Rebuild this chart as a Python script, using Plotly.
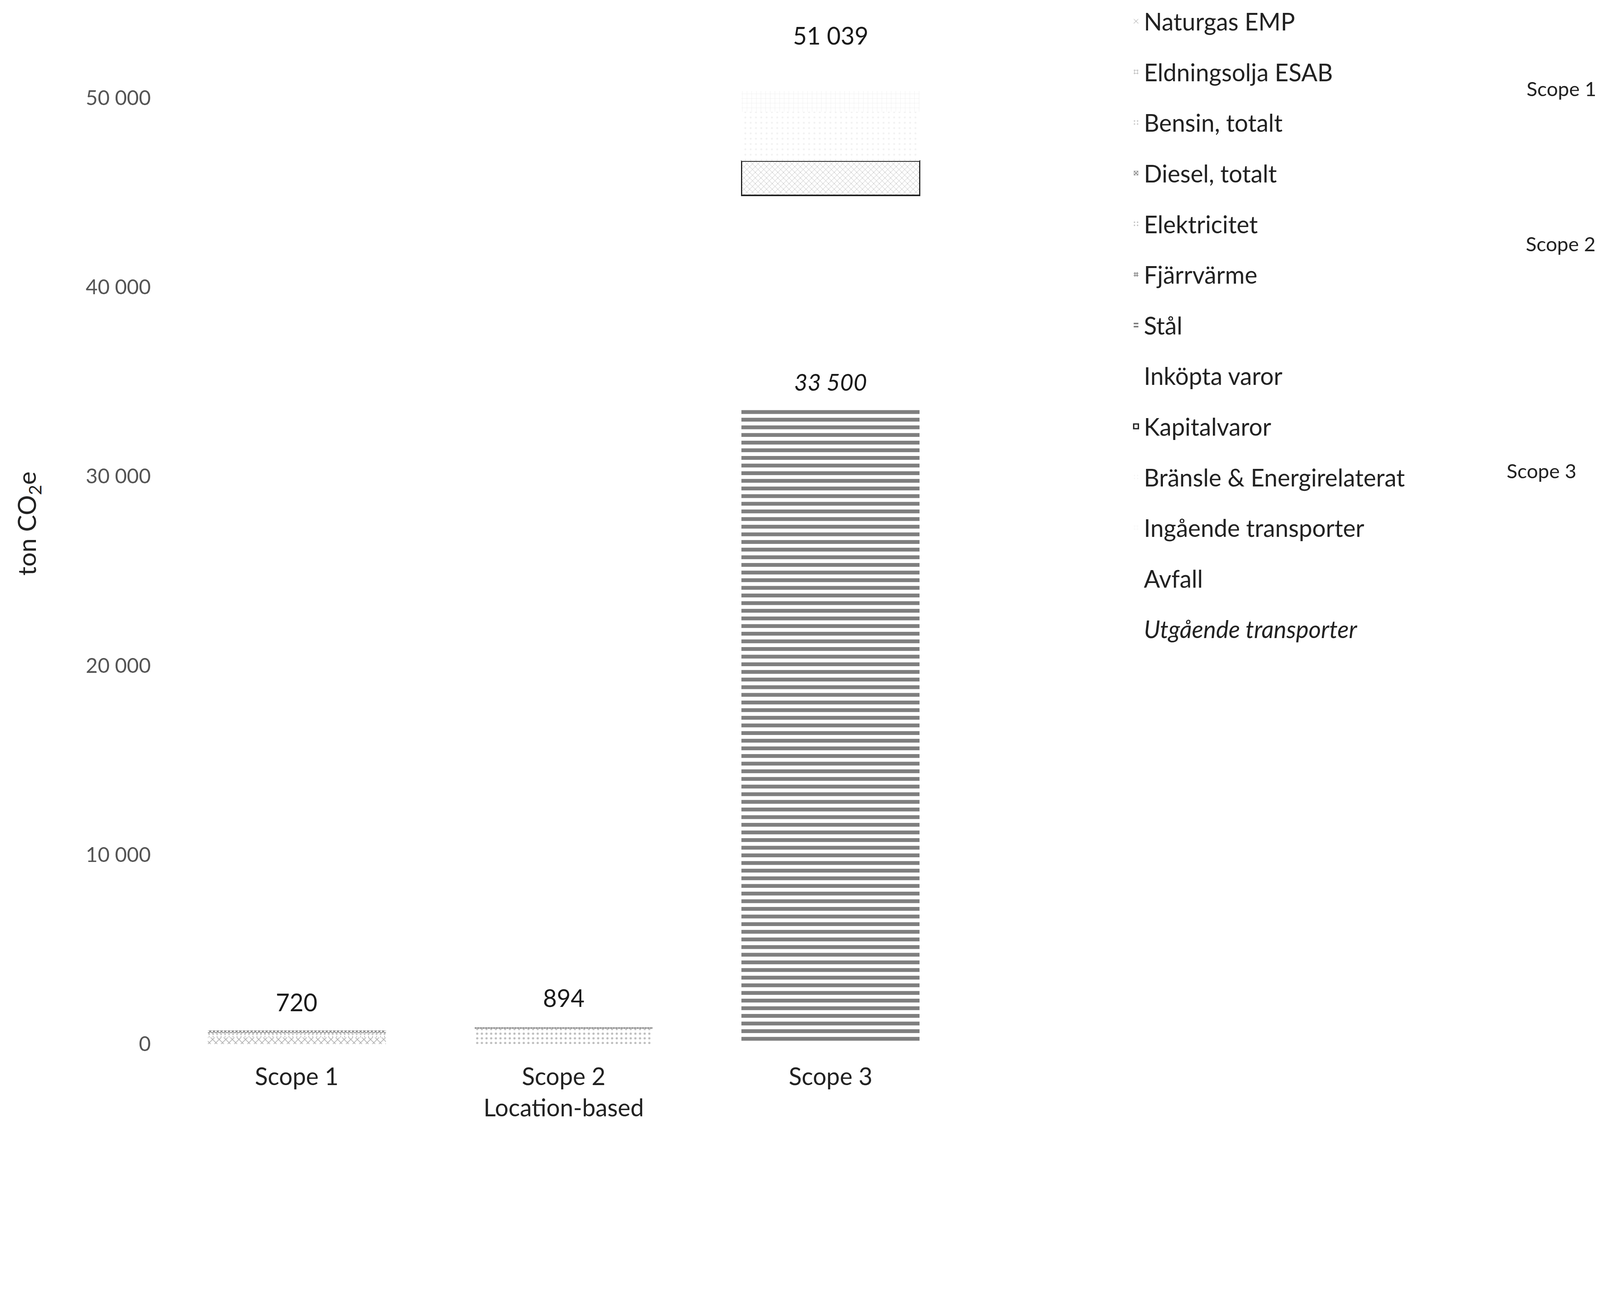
import plotly.graph_objects as go

# ---------------- data ----------------
categories = ["Scope 1", "Scope 2<br>Location-based", "Scope 3"]

series_names = [
    "Naturgas EMP",
    "Eldningsolja ESAB",
    "Bensin, totalt",
    "Diesel, totalt",
    "Elektricitet",
    "Fjärrvärme",
    "Stål",
    "Inköpta varor",
    "Kapitalvaror",
    "Bränsle & Energirelaterat",
    "Ingående transporter",
    "Avfall",
    "<i>Utgående transporter</i>",
]

naturgas_emp = [350, None, None]
eldningsolja_esab = [90, None, None]
bensin_totalt = [130, None, None]
diesel_totalt = [150, None, None]
elektricitet = [None, 804, None]
fjarrvarme = [None, 90, None]
stal = [None, None, 33500]
inkopta_varor = [None, None, 11340]
kapitalvaror = [None, None, 1820]
bransle_energi = [None, None, 2600]
ingaende_transporter = [None, None, 1100]
avfall = [None, None, 250]
utgaende_transporter = [None, None, 429]

series_values = [
    naturgas_emp, eldningsolja_esab, bensin_totalt, diesel_totalt,
    elektricitet, fjarrvarme, stal, inkopta_varor, kapitalvaror,
    bransle_energi, ingaende_transporter, avfall, utgaende_transporter,
]

y_ticks = [0, 10000, 20000, 30000, 40000, 50000]
scope_labels = ["Scope 1", "Scope 2", "Scope 3"]

# ---------------- sizing ----------------
# the page is shown in a viewport of 4096 css px mapped to 4816 device px
S = 4096 / 4816


def px(v):
    return v * S


def ipx(v):
    return int(round(v * S))


W, H = 4816, 3368
L, R, T, B = 482, 4816 - 2892, 0, 3368 - 3133

styles = [
    dict(shape="x", fg="#555555", size=14, sol=0.25, line=None),
    dict(shape="+", fg="#444444", size=12, sol=0.25, line=None),
    dict(shape=".", fg="#888888", size=12, sol=0.2, line=None),
    dict(shape="x", fg="#111111", size=8, sol=0.6, line=None),
    dict(shape=".", fg="#777777", size=14, sol=0.18, line=None),
    dict(shape="+", fg="#111111", size=8, sol=0.6, line=None),
    dict(shape="-", fg="#000000", size=23, sol=0.5, line=None),
    dict(shape="", fg="#ffffff", size=10, sol=0.2, line=None),
    dict(shape="x", fg="#555555", size=12, sol=0.15, line="#222222"),
    dict(shape=".", fg="#e4e4e4", size=16, sol=0.1, line=None),
    dict(shape="+", fg="#d0d0d0", size=14, sol=0.1, line=None),
    dict(shape="", fg="#ffffff", size=10, sol=0.2, line=None),
    dict(shape="", fg="#ffffff", size=10, sol=0.2, line=None),
]

FONT = "Lato"

fig = go.Figure()
for i, (name, vals, st) in enumerate(zip(series_names, series_values, styles)):
    fig.add_trace(go.Bar(
        x=categories,
        y=vals,
        name=name,
        legendgroup=f"g{i}",
        marker=dict(
            color="#ffffff",
            pattern=dict(shape=st["shape"], fgcolor=st["fg"], bgcolor="#ffffff",
                         size=px(st["size"]), solidity=st["sol"], fillmode="overlay"),
            line=dict(color=st["line"] or "rgba(0,0,0,0)", width=px(4) if st["line"] else 0),
        ),
        hoverinfo="skip",
    ))

# totals per category computed from the series
totals = []
for c in range(len(categories)):
    totals.append(sum(v[c] for v in series_values if v[c] is not None))


def fmt(v):
    return f"{v:,}".replace(",", " ")


label_shift = [85, 89, 128]
for c, tot in enumerate(totals):
    fig.add_annotation(x=categories[c], y=tot, text=fmt(tot), showarrow=False,
                       yanchor="middle", yshift=px(label_shift[c]),
                       font=dict(family=FONT, size=px(72), color="#1a1a1a"))

# italic label on the Stål segment
fig.add_annotation(x=categories[2], y=stal[2], text=f"<i>{fmt(stal[2])}</i>", showarrow=False,
                   yanchor="middle", yshift=px(85),
                   font=dict(family=FONT, size=px(70), color="#1a1a1a"))

# scope group labels beside the legend
scope_pos = [(1.746, 0.918), (1.745, 0.769), (1.721, 0.551)]
for lab, (xp, yp) in zip(scope_labels, scope_pos):
    fig.add_annotation(xref="paper", yref="paper", x=xp, y=yp, text=lab, showarrow=False,
                       xanchor="center", yanchor="middle",
                       font=dict(family=FONT, size=px(60), color="#222222"))

fig.update_layout(
    width=ipx(W),
    height=ipx(H),
    margin=dict(l=px(L), r=px(R), t=px(T), b=px(B), pad=0),
    barmode="stack",
    bargap=0.333,
    paper_bgcolor="white",
    plot_bgcolor="white",
    separators=", ",
    font=dict(family=FONT, size=px(72), color="#222222"),
    showlegend=True,
    legend=dict(
        x=1.205, y=1.0, xanchor="left", yanchor="top",
        traceorder="grouped",
        tracegroupgap=ipx(55),
        font=dict(family=FONT, size=px(72), color="#222222"),
        bgcolor="rgba(0,0,0,0)",
        itemwidth=30,
    ),
    xaxis=dict(
        showgrid=False, showline=False, zeroline=False, ticks="",
        tickfont=dict(family=FONT, size=px(72), color="#222222"),
        ticklabelstandoff=ipx(50),
    ),
    yaxis=dict(
        range=[0, 55000],
        tickvals=y_ticks,
        tickformat=",d",
        showgrid=False, showline=False, zeroline=False, ticks="",
        tickfont=dict(family=FONT, size=px(62), color="#555555"),
        ticklabelstandoff=ipx(36),
        title=dict(text="ton CO<sub>2</sub>e", standoff=ipx(124),
                   font=dict(family=FONT, size=px(76), color="#222222")),
        automargin=False,
    ),
)

fig.write_html("out.html")
